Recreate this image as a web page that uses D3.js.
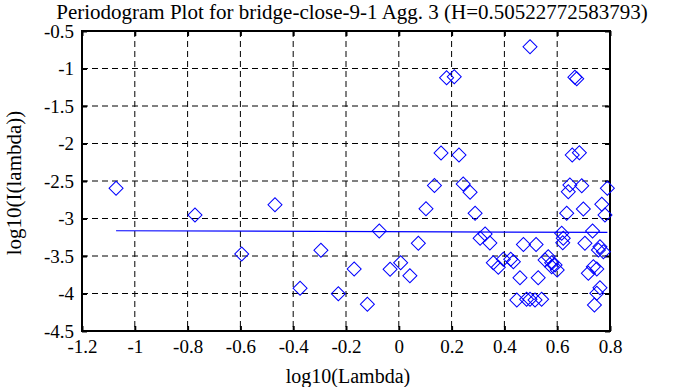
<!DOCTYPE html>
<html><head><meta charset="utf-8">
<script src="https://cdn.jsdelivr.net/npm/d3@7"></script>
<style>body{margin:0;background:#fff}svg{display:block}svg text{font-family:"Liberation Serif","DejaVu Serif",serif !important;fill:#000}</style>
</head><body><svg id="c" width="678" height="387"></svg>
<script>
const titleText = "Periodogram Plot for bridge-close-9-1 Agg. 3 (H=0.50522772583793)";
const xLabel = "log10(Lambda)";
const yLabel = "log10(I(lambda))";
const xTicks = [-1.2,-1,-0.8,-0.6,-0.4,-0.2,0,0.2,0.4,0.6,0.8];
const yTicks = [-0.5,-1,-1.5,-2,-2.5,-3,-3.5,-4,-4.5];
const logLambda = [-1.071,-0.772,-0.595,-0.469,-0.374,-0.295,-0.229,-0.169,-0.119,-0.074,-0.033,0.007,0.042,0.074,0.103,0.135,0.181,0.210,0.160,0.228,0.244,0.270,0.289,0.308,0.327,0.345,0.358,0.377,0.396,0.424,0.434,0.459,0.472,0.520,0.528,0.447,0.484,0.497,0.516,0.541,0.497,0.554,0.566,0.579,0.592,0.600,0.621,0.617,0.623,0.636,0.648,0.642,0.693,0.699,0.705,0.734,0.762,0.775,0.756,0.769,0.781,0.790,0.737,0.718,0.750,0.762,0.750,0.741,0.667,0.674,0.657,0.684,0.579];
const logI = [-2.597,-2.953,-3.473,-2.816,-3.931,-3.424,-4.003,-3.673,-4.144,-3.167,-3.677,-3.589,-3.763,-3.331,-2.869,-2.560,-1.123,-1.109,-2.127,-2.153,-2.540,-2.651,-2.931,-3.264,-3.207,-3.327,-3.589,-3.651,-3.544,-3.544,-3.576,-3.789,-3.347,-3.347,-3.789,-4.087,-4.077,-4.077,-4.087,-4.077,-0.709,-3.553,-3.509,-3.589,-3.620,-3.687,-3.323,-3.197,-3.264,-2.931,-2.553,-2.643,-2.563,-2.873,-3.331,-3.167,-3.376,-3.443,-3.420,-2.811,-2.953,-2.597,-3.643,-3.731,-3.673,-3.923,-3.997,-4.153,-1.117,-1.136,-2.153,-2.123,-3.643];
const fitX = [-1.071, 0.79];
const fitY = [-3.163, -3.185];

const svg = d3.select("#c");
const L=82,R=610,T=31,B=331;
const x = d3.scaleLinear().domain([-1.2,0.8]).range([L,R]);
const y = d3.scaleLinear().domain([-4.5,-0.5]).range([B,T]);
const fmt = d => String(d);

// grid
const g = svg.append("g");
g.selectAll(".vg").data(xTicks.slice(1,-1)).enter().append("line")
 .attr("x1",d=>x(d)).attr("x2",d=>x(d)).attr("y1",T).attr("y2",B)
 .attr("stroke","#000").attr("stroke-width",1).attr("stroke-dasharray","6,4");
g.selectAll(".hg").data(yTicks.slice(1,-1)).enter().append("line")
 .attr("y1",d=>y(d)).attr("y2",d=>y(d)).attr("x1",L).attr("x2",R)
 .attr("stroke","#000").attr("stroke-width",1).attr("stroke-dasharray","6,4");

// axes
const ax = svg.append("g").attr("transform",`translate(0,${B})`).call(d3.axisBottom(x).tickValues(xTicks).tickSize(-5).tickPadding(9).tickFormat(fmt));
const axT = svg.append("g").attr("transform",`translate(0,${T})`).call(d3.axisTop(x).tickValues(xTicks).tickSize(-5).tickFormat(""));
const ay = svg.append("g").attr("transform",`translate(${L},0)`).call(d3.axisLeft(y).tickValues(yTicks).tickSize(-5).tickPadding(8).tickFormat(fmt));
const ayR = svg.append("g").attr("transform",`translate(${R},0)`).call(d3.axisRight(y).tickValues(yTicks).tickSize(-5).tickFormat(""));
[ax,axT,ay,ayR].forEach(a=>{a.attr("font-family",null).attr("font-size",null);a.select(".domain").remove();a.selectAll("line").attr("stroke","#000").attr("stroke-width",2);});
[ax,ay].forEach(a=>a.selectAll("text").attr("font-size",19).attr("fill","#000"));
svg.append("rect").attr("x",L).attr("y",T).attr("width",R-L).attr("height",B-T).attr("fill","none").attr("stroke","#000").attr("stroke-width",2);

// fit line
svg.append("line").attr("x1",x(fitX[0])).attr("x2",x(fitX[1])).attr("y1",y(fitY[0])).attr("y2",y(fitY[1])).attr("stroke","#0000ff").attr("stroke-width",1.2);

// points
const sym = d3.symbol().type(d3.symbolSquare).size(98);
svg.append("g").selectAll("path").data(logLambda.map((v,i)=>[v,logI[i]])).enter().append("path")
 .attr("d",sym).attr("transform",d=>`translate(${x(d[0])},${y(d[1])}) rotate(45)`)
 .attr("fill","none").attr("stroke","#0000ff").attr("stroke-width",1);

// labels
svg.append("text").attr("x",352).attr("y",19).attr("text-anchor","middle").attr("font-size",21).text(titleText);
svg.append("text").attr("x",348).attr("y",383).attr("text-anchor","middle").attr("font-size",20).text(xLabel);
svg.append("text").attr("transform",`translate(21,183) rotate(-90)`).attr("text-anchor","middle").attr("font-size",21).text(yLabel);
</script></body></html>
